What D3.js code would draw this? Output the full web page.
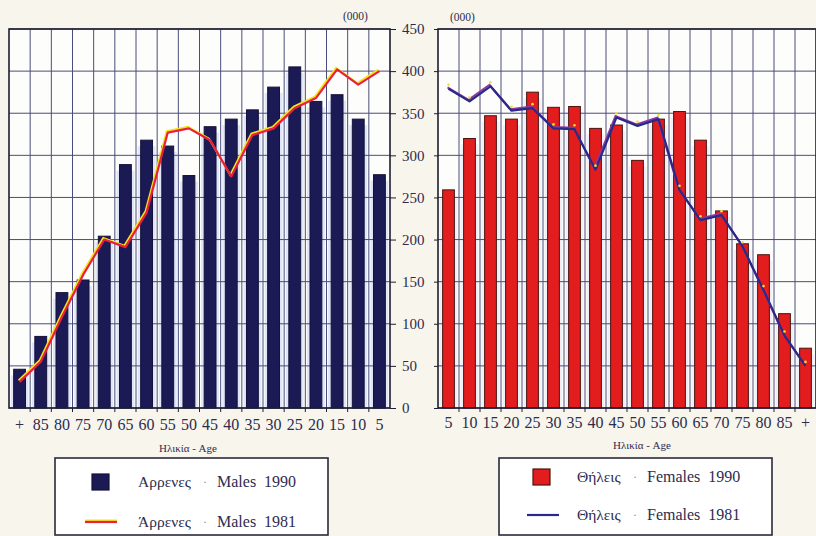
<!DOCTYPE html>
<html><head><meta charset="utf-8">
<script src="https://cdn.jsdelivr.net/npm/d3@7/dist/d3.min.js"></script>
<style>body{margin:0;background:#f7f5ec}svg{display:block}</style>
</head><body>
<svg id="c" width="816" height="536"></svg>
<script>
const agesLeft = ["+","85","80","75","70","65","60","55","50","45","40","35","30","25","20","15","10","5"];
const agesRight = ["5","10","15","20","25","30","35","40","45","50","55","60","65","70","75","80","85","+"];
const males1990 = [46,85,137,152,204,289,318,311,276,334,343,354,381,405,364,372,343,277];
const males1981 = [31,55,108,158,200,191,232,327,332,318,275,324,332,356,368,402,384,400];
const females1990 = [259,320,347,343,375,357,358,332,336,294,343,352,318,234,195,182,112,71];
const females1981 = [379,364,382,353,356,332,331,283,345,335,343,259,223,229,192,140,86,50];
const yTicks = [0,50,100,150,200,250,300,350,400,450];

const svg = d3.select("#c");
const serif = "'Liberation Serif','DejaVu Serif',serif";
const txtCol = "#2e2c4e";
svg.append("rect").attr("width",816).attr("height",536).attr("fill","#f7f5ec");

const y = d3.scaleLinear().domain([0,450]).range([408,29]);

function panel(cats, bars, line, x0, x1, opt){
  const x = d3.scaleBand().domain(cats).range([x0,x1]).padding(0);
  const bw = x.bandwidth();
  const g = svg.append("g");
  g.append("rect").attr("x",x0).attr("y",y(450)).attr("width",x1-x0).attr("height",y(0)-y(450)).attr("fill","#fdfdfb");
  // halo behind bars
  g.selectAll(".halo").data(bars).join("rect")
    .attr("x",(d,i)=>x(cats[i])+bw*0.22-3).attr("width",bw*0.56+6)
    .attr("y",d=>y(d)+6).attr("height",d=>Math.max(0,y(0)-y(d)-6))
    .attr("fill",opt.halo);
  // grid
  g.selectAll(".hg").data(yTicks).join("line")
    .attr("x1",x0).attr("x2",x1).attr("y1",d=>y(d)).attr("y2",d=>y(d))
    .attr("stroke","#4c4c7c").attr("stroke-width",1);
  g.selectAll(".vg").data(cats.slice(1)).join("line")
    .attr("x1",d=>x(d)).attr("x2",d=>x(d)).attr("y1",y(450)).attr("y2",y(0))
    .attr("stroke","#4c4c7c").attr("stroke-width",1);
  // bars
  g.selectAll(".bar").data(bars).join("rect")
    .attr("x",(d,i)=>x(cats[i])+bw*0.22).attr("width",bw*0.56)
    .attr("y",d=>y(d)).attr("height",d=>y(0)-y(d))
    .attr("fill",opt.barFill).attr("stroke",opt.barStroke).attr("stroke-width",1);
  // line
  const gen = d3.line().x((d,i)=>x(cats[i])+bw/2).y(d=>y(d));
  if(opt.under){
    g.append("path").datum(line).attr("d",gen).attr("fill","none")
      .attr("stroke",opt.under).attr("stroke-width",2).attr("transform","translate(-1,-1.5)");
  }
  g.append("path").datum(line).attr("d",gen).attr("fill","none")
    .attr("stroke",opt.lineCol).attr("stroke-width",2.2).attr("stroke-linejoin","round");
  if(opt.dots){
    g.selectAll(".dot").data(line).join("circle")
      .attr("cx",(d,i)=>x(cats[i])+bw/2).attr("cy",d=>y(d)-4).attr("r",1.3).attr("fill",opt.dots);
  }
  // frame
  g.append("rect").attr("x",x0).attr("y",y(450)).attr("width",x1-x0).attr("height",y(0)-y(450))
    .attr("fill","none").attr("stroke","#1e1e30").attr("stroke-width",1.6);
  // x boundary ticks
  g.selectAll(".xt").data(cats.slice(1)).join("line")
    .attr("x1",d=>x(d)).attr("x2",d=>x(d)).attr("y1",y(0)).attr("y2",y(0)+4)
    .attr("stroke","#1e1e30").attr("stroke-width",1);
  // x labels
  const ax = d3.axisBottom(x).tickSize(0).tickPadding(0);
  const ag = g.append("g").attr("transform",`translate(0,${opt.labY})`).call(ax);
  ag.select(".domain").remove();
  ag.selectAll("text").attr("font-family",serif).attr("font-size",16).attr("fill",txtCol).attr("dy","0");
  // axis title
  g.append("text").attr("x",opt.titleX).attr("y",opt.titleY).attr("text-anchor","middle")
    .attr("font-family",serif).attr("font-size",11).attr("fill",txtCol).text("Ηλικία  -  Age");
  return x;
}

panel(agesLeft, males1990, males1981, 9, 390,
  {barFill:"#1c1a54",barStroke:"#14123a",halo:"#dfe6f8",lineCol:"#e8203c",under:"#f2e41c",labY:430,titleX:188,titleY:452});
panel(agesRight, females1990, females1981, 438, 816,
  {barFill:"#e31c1e",barStroke:"#4a1410",halo:"#eef0f8",lineCol:"#2a2888",under:"#8a3aa0",dots:"#f0e030",labY:428,titleX:642,titleY:449});

// y axis (shared labels between panels)
const ya = d3.axisRight(y).tickValues(yTicks).tickSize(6).tickPadding(6);
const yg = svg.append("g").attr("transform","translate(390,0)").call(ya);
yg.select(".domain").remove();
yg.selectAll("line").attr("stroke","#1e1e30");
yg.selectAll("text").attr("font-family",serif).attr("font-size",15).attr("fill",txtCol);
const ya2 = d3.axisLeft(y).tickValues(yTicks).tickSize(4).tickFormat("");
const yg2 = svg.append("g").attr("transform","translate(438,0)").call(ya2);
yg2.select(".domain").remove();
yg2.selectAll("line").attr("stroke","#1e1e30");

svg.append("text").attr("x",343).attr("y",20).attr("font-family",serif).attr("font-size",11.5).attr("fill",txtCol).text("(000)");
svg.append("text").attr("x",450).attr("y",21).attr("font-family",serif).attr("font-size",11.5).attr("fill",txtCol).text("(000)");

// legends
function legend(x0,x1,items){
  const g = svg.append("g");
  g.append("rect").attr("x",x0).attr("y",458).attr("width",x1-x0).attr("height",77)
    .attr("fill","#ffffff").attr("stroke","#2a2a3a").attr("stroke-width",1.6);
  items.forEach(it=>{
    if(it.type==="sq"){
      g.append("rect").attr("x",it.sx).attr("y",it.y-8).attr("width",17).attr("height",16)
        .attr("fill",it.fill).attr("stroke",it.stroke).attr("stroke-width",1.2);
    } else {
      if(it.under) g.append("line").attr("x1",it.sx).attr("x2",it.sx+32).attr("y1",it.y-1.5).attr("y2",it.y-1.5).attr("stroke",it.under).attr("stroke-width",2);
      g.append("line").attr("x1",it.sx).attr("x2",it.sx+32).attr("y1",it.y).attr("y2",it.y).attr("stroke",it.col).attr("stroke-width",2.2);
    }
    g.append("text").attr("x",it.tx).attr("y",it.y+5).attr("font-family",serif).attr("font-size",15.5).attr("fill",txtCol).text(it.gr);
    g.append("text").attr("x",it.dx).attr("y",it.y+4).attr("font-family",serif).attr("font-size",12).attr("fill","#8a8aa0").text("·");
    g.append("text").attr("x",it.ex).attr("y",it.y+5).attr("font-family",serif).attr("font-size",16).attr("fill",txtCol)
      .attr("word-spacing","4px").text(it.en);
  });
}
legend(55,328,[
  {type:"sq",sx:92,y:482,fill:"#1c1a54",stroke:"#14123a",tx:138,dx:203,ex:217,gr:"Αρρενες",en:"Males 1990"},
  {type:"ln",sx:85,y:522,col:"#e8203c",under:"#f2e41c",tx:138,dx:203,ex:217,gr:"Άρρενες",en:"Males 1981"}
]);
legend(499,772,[
  {type:"sq",sx:533,y:477,fill:"#e31c1e",stroke:"#4a1410",tx:577,dx:633,ex:647,gr:"Θήλεις",en:"Females 1990"},
  {type:"ln",sx:527,y:515,col:"#2a2888",tx:577,dx:633,ex:647,gr:"Θήλεις",en:"Females 1981"}
]);
</script>
</body></html>
